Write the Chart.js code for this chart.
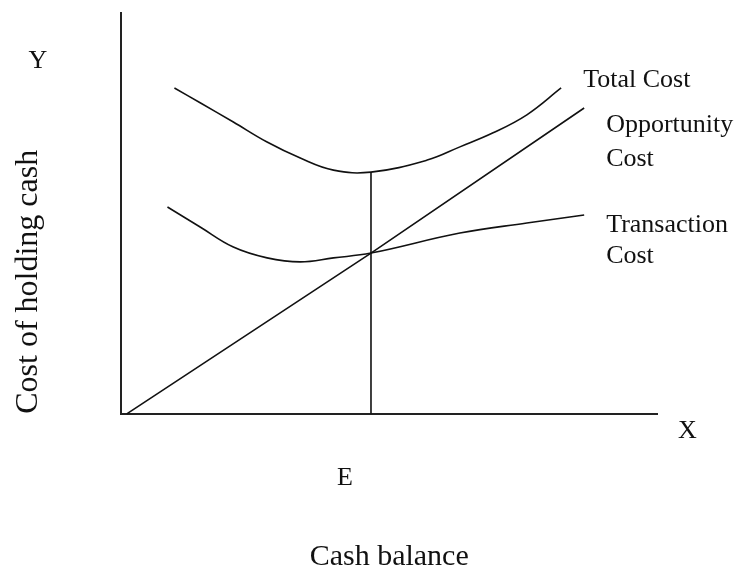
<!DOCTYPE html>
<html>
<head>
<meta charset="utf-8">
<script src="https://cdn.jsdelivr.net/npm/chart.js@4.4.0/dist/chart.umd.min.js"></script>
<style>
    html, body { margin: 0; padding: 0; background: #fff; }
    #wrap { width: 737px; height: 572px; position: relative; }
</style>
</head>
<body>
<div id="wrap"><canvas id="cashChart"></canvas></div>
<script>
// cash balance (x) and cost (y) in axis units 0..10
const totalCostX = [0.99, 1.47, 2.09, 2.72, 3.34, 3.96, 4.66, 5.71, 6.32, 6.94, 7.57, 8.21];
const totalCostY = [8.13, 7.76, 7.28, 6.78, 6.38, 6.08, 6.03, 6.33, 6.66, 7.01, 7.46, 8.13];

const oppCostX = [0.1, 4.66, 8.64];
const oppCostY = [0.0, 4.01, 7.63];

const transCostX = [0.86, 1.47, 2.09, 2.72, 3.34, 3.96, 4.66, 6.32, 7.57, 8.64];
const transCostY = [5.16, 4.66, 4.16, 3.89, 3.79, 3.89, 4.01, 4.51, 4.76, 4.96];

const optimalX = 4.66;          // point E on the cash balance axis
const optimalIndex = 6;         // index of E in totalCostX
const eLineY = [0, totalCostY[optimalIndex]];

const serif = "'Times New Roman', 'Liberation Serif', serif";
const ink = '#111';

function toPoints(xs, ys) {
    return xs.map((x, i) => ({ x: x, y: ys[i] }));
}

// Curve names and axis letters
const labelPlugin = {
    id: 'sketchLabels',
    afterDraw(chart) {
        const { ctx, chartArea, scales } = chart;
        const px = v => scales.x.getPixelForValue(v);
        const py = v => scales.y.getPixelForValue(v);
        const last = arr => arr[arr.length - 1];

        ctx.save();
        ctx.fillStyle = ink;
        ctx.font = '26px ' + serif;
        ctx.textAlign = 'left';
        ctx.textBaseline = 'alphabetic';

        const tcx = px(last(totalCostX)) + 22, tcy = py(last(totalCostY));
        ctx.fillText('Total Cost', tcx, tcy - 1);

        const ocx = px(last(oppCostX)) + 22, ocy = py(last(oppCostY));
        ctx.fillText('Opportunity', ocx, ocy + 24);
        ctx.fillText('Cost', ocx, ocy + 58);

        const trx = px(last(transCostX)) + 22, tryy = py(last(transCostY));
        ctx.fillText('Transaction', trx, tryy + 17);
        ctx.fillText('Cost', trx, tryy + 48);

        ctx.fillText('Y', chartArea.left - 93, chartArea.top + 55);
        ctx.fillText('X', chartArea.right + 21, chartArea.bottom + 24);
        ctx.restore();
    }
};

const lineStyle = {
    borderColor: ink,
    borderWidth: 1.6,
    pointRadius: 0,
    fill: false
};

new Chart(document.getElementById('cashChart').getContext('2d'), {
    type: 'line',
    data: {
        datasets: [
            Object.assign({ label: 'Total Cost', data: toPoints(totalCostX, totalCostY), tension: 0.4 }, lineStyle),
            Object.assign({ label: 'Opportunity Cost', data: toPoints(oppCostX, oppCostY), tension: 0 }, lineStyle),
            Object.assign({ label: 'Transaction Cost', data: toPoints(transCostX, transCostY), tension: 0.4 }, lineStyle),
            Object.assign({ label: 'E', data: toPoints([optimalX, optimalX], eLineY), tension: 0 }, lineStyle)
        ]
    },
    options: {
        responsive: true,
        maintainAspectRatio: false,
        animation: false,
        events: [],
        clip: false,
        layout: {
            autoPadding: false,
            padding: { top: 13, right: 80, bottom: 0, left: 0 }
        },
        plugins: {
            legend: { display: false },
            tooltip: { enabled: false }
        },
        scales: {
            x: {
                type: 'linear',
                min: 0,
                max: 10,
                grid: { display: false, drawTicks: false },
                border: { display: true, color: '#222', width: 2 },
                afterBuildTicks: scale => { scale.ticks = [{ value: optimalX }]; },
                ticks: {
                    padding: 48.5,
                    labelOffset: -26,
                    color: ink,
                    font: { family: serif, size: 26 },
                    callback: () => 'E'
                },
                title: {
                    display: true,
                    text: 'Cash balance',
                    color: ink,
                    font: { family: serif, size: 30, lineHeight: 1 },
                    padding: { top: 0, bottom: 0 }
                }
            },
            y: {
                type: 'linear',
                min: 0,
                max: 10,
                grid: { display: false, drawTicks: false },
                border: { display: true, color: '#222', width: 2 },
                ticks: { display: false },
                title: {
                    display: true,
                    text: 'Cost of holding cash',
                    align: 'start',
                    color: ink,
                    font: { family: serif, size: 32 },
                    padding: { top: 9, bottom: 74 }
                }
            }
        }
    },
    plugins: [labelPlugin]
});
</script>
</body>
</html>
